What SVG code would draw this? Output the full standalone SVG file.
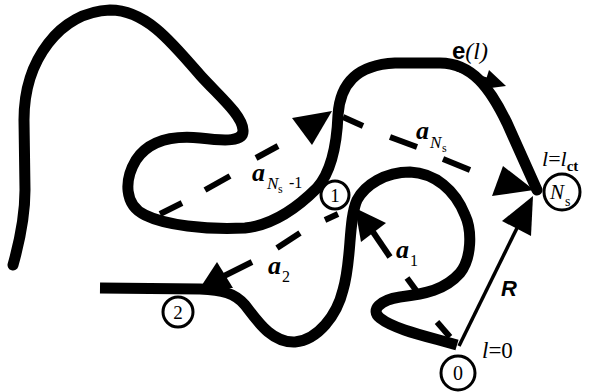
<svg xmlns="http://www.w3.org/2000/svg" width="591" height="392" viewBox="0 0 591 392">
<style>
.chain{fill:none;stroke:#000;stroke-width:11;stroke-linecap:round;stroke-linejoin:round}
.bond{fill:none;stroke:#000;stroke-width:6;stroke-linecap:butt}
.head{fill:#000;stroke:none}
.ring{fill:#fff;stroke:#000;stroke-width:3}
.t{font-family:"Liberation Serif",serif;fill:#000}
.a{font-family:"Liberation Serif",serif;font-weight:bold;font-style:italic;fill:#000}
</style>
<rect width="591" height="392" fill="#fff"/>
<g id="connectors">
  <path id="chain-upper" class="chain" d="M 13,265 C 20,240 25,215 25,190 L 24,120 C 24,60 60,12 110,10 C 145,10 170,40 200,75 C 220,97 242,115 243,130 C 244,142 225,141 200,138 C 170,135 148,142 136,160 C 124,180 124,205 145,215 C 165,225 205,230 245,228 C 275,225 300,205 317,188 C 333,170 337,140 338,115 C 340,85 355,65 395,63 L 440,63 C 472,63 490,88 507,123 L 537,190"/>
  <path id="chain-lower" class="chain" style="stroke-linecap:butt" d="M 457,345 C 430,337 395,330 380,318 C 370,310 380,300 400,297 C 425,294 445,290 460,273 C 472,258 472,230 465,215 C 455,190 435,173 410,172 C 385,172 365,185 357,200 C 348,220 352,260 343,290 C 337,315 318,340 295,342 C 272,343 258,322 245,305 C 235,293 222,290 200,289 L 100,288"/>
  <g id="bond-a1">
    <line class="bond" x1="450" y1="337" x2="437" y2="322"/>
    <line class="bond" x1="418" y1="293" x2="407" y2="278"/>
    <line class="bond" x1="390" y1="257" x2="373" y2="232"/>
    <polygon class="head" points="355,208 361,242 386,223"/>
  </g>
  <g id="bond-a2">
    <line class="bond" x1="338" y1="214" x2="325" y2="220"/>
    <line class="bond" x1="300" y1="233" x2="277" y2="248"/>
    <line class="bond" x1="252" y1="262" x2="224" y2="276"/>
    <polygon class="head" points="200,288 217,262 233,288"/>
  </g>
  <g id="bond-aNs-1">
    <line class="bond" x1="160" y1="214" x2="182" y2="203"/>
    <line class="bond" x1="205" y1="190" x2="230" y2="176"/>
    <line class="bond" x1="256" y1="158" x2="278" y2="146"/>
    <polygon class="head" points="332,111 292,118 312,145"/>
  </g>
  <g id="bond-aNs">
    <line class="bond" x1="343" y1="117" x2="363" y2="126"/>
    <line class="bond" x1="390" y1="137" x2="417" y2="147"/>
    <line class="bond" x1="443" y1="159" x2="470" y2="170"/>
    <polygon class="head" points="534,190 503,166 492,196"/>
  </g>
  <g id="vector-R">
    <line x1="459" y1="346" x2="518" y2="226" stroke="#000" stroke-width="3.5"/>
    <polygon class="head" points="533,196 502,221 531,236"/>
  </g>
  <g id="tangent-e">
    <line x1="457" y1="70" x2="490" y2="80" stroke="#000" stroke-width="3"/>
    <polygon class="head" points="506,86 489,70 483,89"/>
  </g>
</g>
<g id="node-0">
  <circle class="ring" cx="458" cy="373" r="17"/>
  <text class="t" x="458" y="380" font-size="20" text-anchor="middle">0</text>
</g>
<g id="node-1">
  <circle class="ring" cx="335" cy="195" r="14"/>
  <text class="t" x="335" y="202" font-size="19" text-anchor="middle">1</text>
</g>
<g id="node-2">
  <circle class="ring" cx="178" cy="312" r="15"/>
  <text class="t" x="178" y="319" font-size="19" text-anchor="middle">2</text>
</g>
<g id="node-Ns">
  <circle class="ring" cx="562" cy="192" r="18"/>
  <text class="t" font-style="italic"><tspan x="550" y="199" font-size="21">N</tspan><tspan x="565" y="206" font-size="14" font-style="normal">s</tspan></text>
</g>
<g id="labels">
  <text class="a" x="252" y="181" font-size="26">a</text>
  <text class="t"><tspan x="267" y="189" font-size="17" font-style="italic">N</tspan><tspan x="278" y="193" font-size="12">s</tspan><tspan x="285" y="188" font-size="16"> -1</tspan></text>
  <text class="a" x="416" y="139" font-size="26">a</text>
  <text class="t"><tspan x="430" y="148" font-size="17" font-style="italic">N</tspan><tspan x="442" y="152" font-size="12">s</tspan></text>
  <text class="a" x="268" y="274" font-size="26">a</text>
  <text class="t" x="282" y="282" font-size="16">2</text>
  <text class="a" x="396" y="258" font-size="26">a</text>
  <text class="t" x="410" y="266" font-size="16">1</text>
  <text class="t" x="452" y="59" font-size="24"><tspan font-family="Liberation Sans" font-weight="bold">e</tspan><tspan font-style="italic">(l)</tspan></text>
  <text class="t" x="542" y="166" font-size="22"><tspan font-style="italic">l</tspan>=<tspan font-style="italic">l</tspan><tspan font-size="15" font-weight="bold" dy="5">ct</tspan></text>
  <text x="501" y="296" font-size="22" font-family="Liberation Sans" font-weight="bold" font-style="italic">R</text>
  <text class="t" x="482" y="358" font-size="23"><tspan font-style="italic">l</tspan>=0</text>
</g>
</svg>
